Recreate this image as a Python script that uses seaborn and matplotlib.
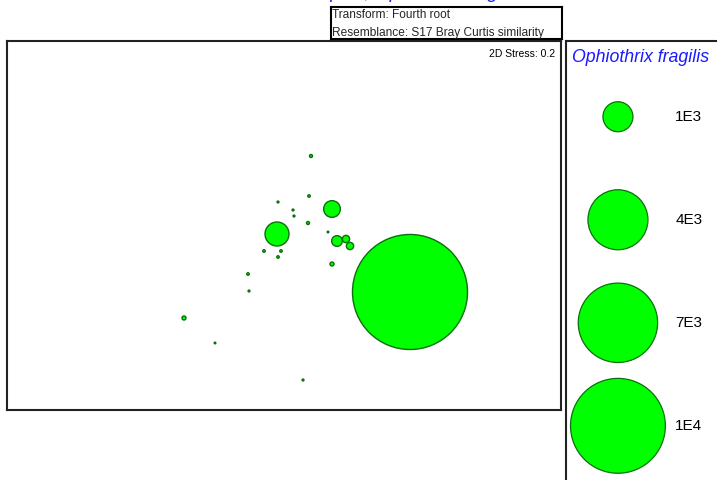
import numpy as np
import pandas as pd
import matplotlib
matplotlib.use("Agg")
import matplotlib.pyplot as plt
import seaborn as sns

# ---- data (nMDS coordinates and Ophiothrix fragilis abundance) ----
mds_x = [0.28, 0.26, -0.05, 0.10, 0.11, 0.25, 0.49, -0.06, 0.45, 0.54, 0.63, 0.67,
         -0.19, -0.02, -0.05, 0.49, -0.35, 1.27, -0.34, -0.99, -0.68, 0.20]
mds_y = [0.69, 0.29, 0.23, 0.15, 0.09, 0.02, 0.16, -0.09, -0.07, -0.16, -0.14, -0.21,
         -0.26, -0.26, -0.32, -0.39, -0.49, -0.67, -0.66, -0.93, -1.18, -1.55]
abundance = [10, 7, 4, 4, 4, 10, 310, 640, 3, 127, 59, 59,
             7, 7, 7, 18, 7, 14700, 4, 18, 3, 4]
legend_values = [1000, 4000, 7000, 10000]
legend_labels = ["1E3", "4E3", "7E3", "1E4"]
species = "Ophiothrix fragilis"
title = "nMDS of all samples, Ophiothrix fragilis abundance"

df = pd.DataFrame({"x": mds_x, "y": mds_y, "abund": abundance})
leg = pd.DataFrame({"x": [0] * len(legend_values), "y": list(range(len(legend_values))),
                    "abund": legend_values})

sns.set_style("white")
plt.rcParams["font.family"] = ["Liberation Sans", "DejaVu Sans"]

W, H = 717, 480
fig = plt.figure(figsize=(W / 100, H / 100), dpi=100)

def px_axes(x0, y0, x1, y1):
    return fig.add_axes([x0 / W, 1 - y1 / H, (x1 - x0) / W, (y1 - y0) / H])

face = "#00ff00"
edge = "#0b700b"
SMAX = 20000
scale = 0.46656  # marker area (pt^2) per abundance unit
sizes = (0, scale * SMAX)

# ---- main ordination panel ----
ax = px_axes(7, 41, 561, 409.5)
sns.scatterplot(data=df.sort_values("abund", ascending=False), x="x", y="y",
                size="abund", sizes=sizes, size_norm=(0, SMAX), legend=False,
                color=face, edgecolor=edge, linewidth=1.0, ax=ax, zorder=3)
ax.set_xlim(-2.76, 2.78)
ax.set_ylim(-1.845, 1.84)
ax.set_xticks([]); ax.set_yticks([])
ax.set_xlabel(""); ax.set_ylabel("")
for s in ax.spines.values():
    s.set_visible(True); s.set_color("#222222"); s.set_linewidth(1.5)
ax.text(0.99, 0.965, "2D Stress: 0.2", transform=ax.transAxes, ha="right", va="center",
        fontsize=7.5, color="black")

# ---- legend panel ----
lax = px_axes(566, 41, 740, 500)
sns.scatterplot(data=leg, x="x", y="y", size="abund", sizes=sizes, size_norm=(0, SMAX),
                legend=False, color=face, edgecolor=edge, linewidth=0.9, ax=lax, zorder=3)
lax.set_xlim(-0.3, 0.705)
lax.set_ylim(3.72, -0.735)
lax.set_xticks([]); lax.set_yticks([])
lax.set_xlabel(""); lax.set_ylabel("")
for k, s in lax.spines.items():
    s.set_visible(True); s.set_color("#222222"); s.set_linewidth(1.5)
for i, lab in enumerate(legend_labels):
    lax.text(0.41, i, lab, ha="center", va="center", fontsize=11, color="black")
lax.text(0.036, 0.965, species, transform=lax.transAxes, ha="left", va="center",
         fontsize=12.8, style="italic", color="#1a1aff")

# ---- transform / resemblance box ----
bax = px_axes(331, 7, 562, 38.5)
bax.set_xticks([]); bax.set_yticks([])
for s in bax.spines.values():
    s.set_visible(True); s.set_color("black"); s.set_linewidth(1.5)
fam = ["Liberation Sans Narrow", "Liberation Sans"]
bax.text(0.005, 0.74, "Transform: Fourth root", transform=bax.transAxes, ha="left",
         va="center", fontsize=8.6, family=fam)
bax.text(0.005, 0.18, "Resemblance: S17 Bray Curtis similarity", transform=bax.transAxes,
         ha="left", va="center", fontsize=8.6, family=fam)

# ---- title (clipped at the top edge, as in the reference) ----
fig.text(405 / W, 1 + 1.5 / H, title, ha="center", va="baseline", fontsize=13.5,
         style="italic", color="#1a1aff")

fig.savefig("out.png", dpi=100)
